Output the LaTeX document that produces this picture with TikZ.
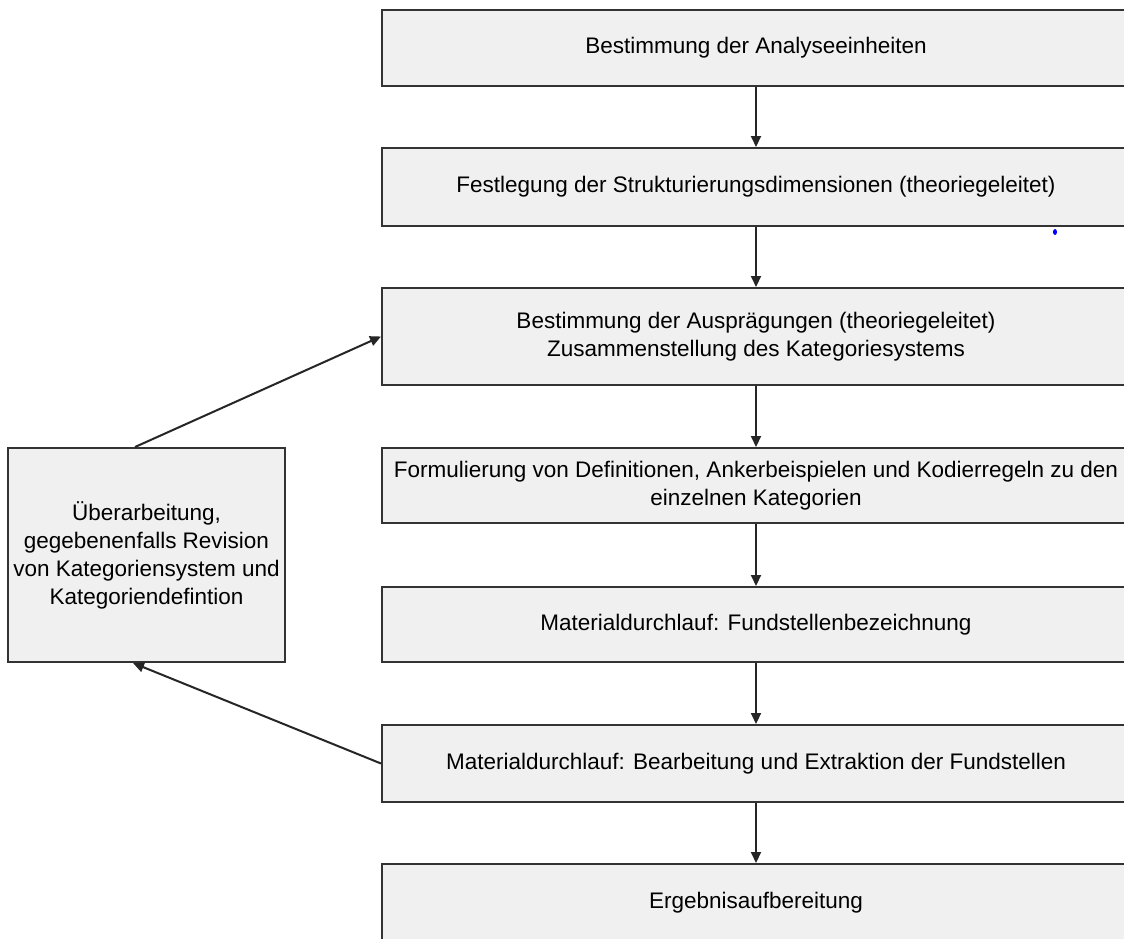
\documentclass[tikz,border=0pt]{standalone}
\usepackage{fontspec}
\setmainfont{Liberation Sans}
\usetikzlibrary{arrows.meta}
\definecolor{boxfill}{HTML}{F0F0F0}
\definecolor{boxline}{HTML}{333333}
\tikzset{
  stepbox/.style={draw=boxline, fill=boxfill, line width=2pt, rectangle,
    minimum width=748pt, align=center, inner sep=0pt,
    font=\fontsize{22.5}{28}\selectfont},
  sidebox/.style={draw=boxline, fill=boxfill, line width=2pt, rectangle,
    minimum width=277pt, minimum height=214pt, align=center, inner sep=0pt,
    font=\fontsize{22.5}{28}\selectfont},
  flow/.style={draw=black!85, line width=2pt, -{Triangle[length=11pt,width=10pt]}}
}
\begin{document}
\begin{tikzpicture}[x=1pt,y=-1pt]
\useasboundingbox (0,0) rectangle (1124,938);
\fill[white] (0,0) rectangle (1124,938);
\clip (0,0) rectangle (1124,938);
\node[stepbox, minimum height=76pt] (b1) at (756,48) {Bestimmung der Analyseeinheiten};
\node[stepbox, minimum height=78pt] (b2) at (756,187) {Festlegung der Strukturierungsdimensionen (theoriegeleitet)};
\node[stepbox, minimum height=97pt] (b3) at (756,336.5) {Bestimmung der Ausprägungen (theoriegeleitet)\\Zusammenstellung des Kategoriesystems};
\node[stepbox, minimum height=75pt] (b4) at (756,485.5) {Formulierung von Definitionen, Ankerbeispielen und Kodierregeln zu den\\einzelnen Kategorien};
\node[stepbox, minimum height=75pt] (b5) at (756,624.5) {Materialdurchlauf: Fundstellenbezeichnung};
\node[stepbox, minimum height=77pt] (b6) at (756,763.5) {Materialdurchlauf: Bearbeitung und Extraktion der Fundstellen};
\node[stepbox, minimum height=78pt] (b7) at (756,903) {Ergebnisaufbereitung};
\node[sidebox] (L) at (146.5,555) {Überarbeitung,\\gegebenenfalls Revision\\von Kategoriensystem und\\Kategoriendefintion};
\draw[flow] (b1) -- (b2);
\draw[flow] (b2) -- (b3);
\draw[flow] (b3) -- (b4);
\draw[flow] (b4) -- (b5);
\draw[flow] (b5) -- (b6);
\draw[flow] (b6) -- (b7);
\draw[flow] ([xshift=-11.5pt]L.north) -- (b3.west);
\draw[flow] (b6.west) -- ([xshift=-13.5pt]L.south);
\fill[blue] (1055,232) ellipse (2 and 3);
\end{tikzpicture}
\end{document}
